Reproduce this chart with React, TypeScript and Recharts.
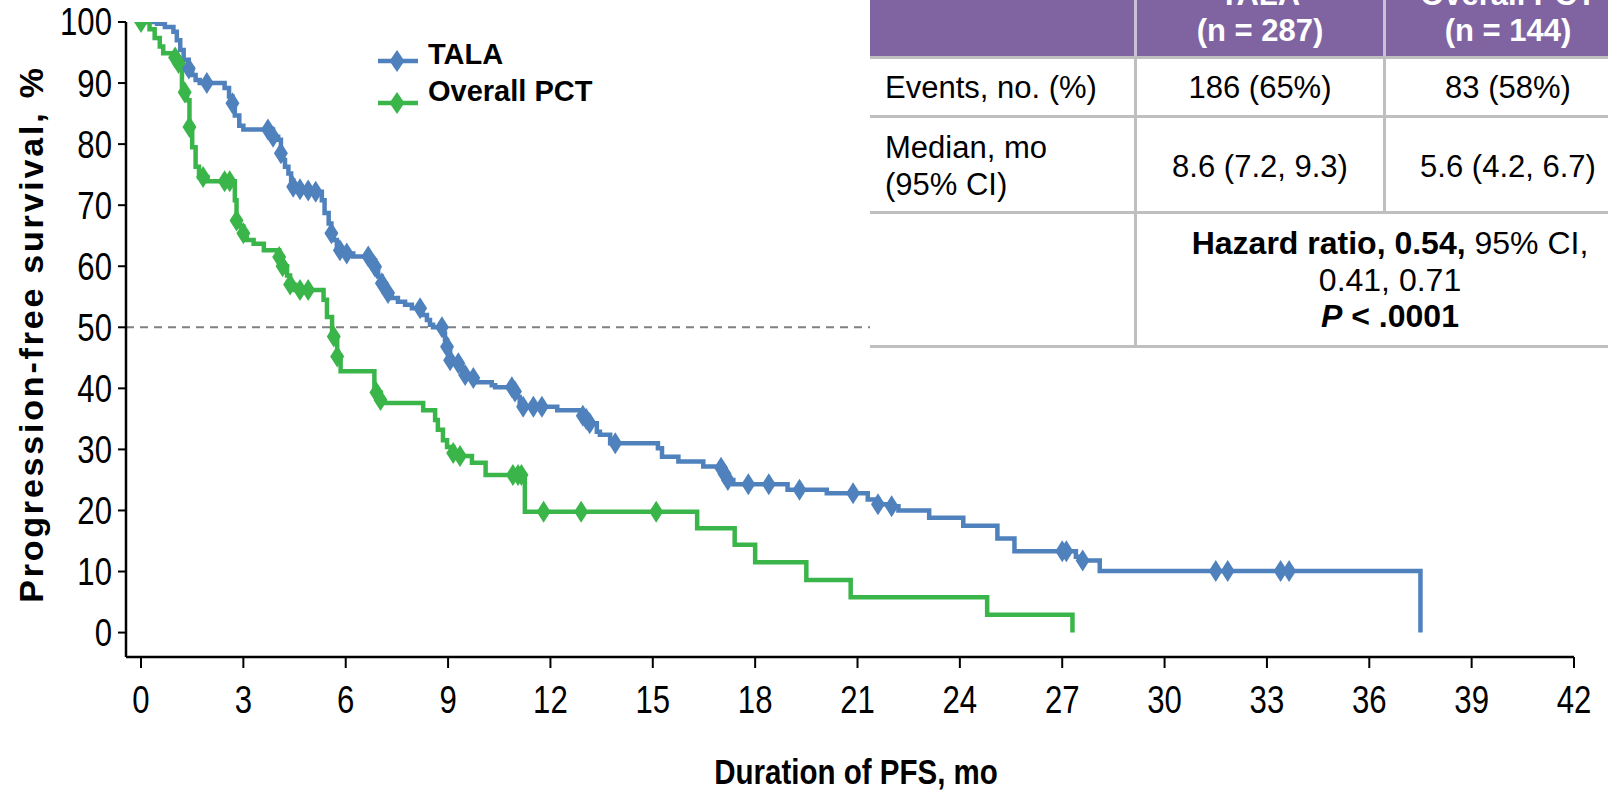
import React from 'react';
import { ComposedChart, Line, XAxis, YAxis, ReferenceLine } from 'recharts';

// ---------- data ----------
const xTicks = [0, 3, 6, 9, 12, 15, 18, 21, 24, 27, 30, 33, 36, 39, 42];
const yTicks = [0, 10, 20, 30, 40, 50, 60, 70, 80, 90, 100];

// [months, PFS %, censored (1 = tick mark)]
const talaSteps: [number, number, number][] = [
  [0, 100, 0], [0.47, 99.7, 0], [0.7, 99.2, 0], [0.95, 98.4, 0], [1.05, 97.0, 0],
  [1.15, 95.4, 0], [1.25, 93.8, 0], [1.4, 92.4, 1], [1.5, 91.3, 0], [1.6, 90.5, 0],
  [1.72, 90.0, 0], [1.93, 90.0, 1], [2.45, 89.2, 0], [2.58, 87.8, 0], [2.68, 86.7, 1],
  [2.75, 84.7, 0], [2.88, 83.0, 0], [3.0, 82.4, 0], [3.72, 82.4, 1], [3.87, 81.2, 1],
  [4.02, 80.7, 0], [4.1, 78.5, 1], [4.17, 77.4, 0], [4.22, 76.3, 0], [4.32, 75.2, 0],
  [4.4, 74.1, 0], [4.46, 73.0, 1], [4.66, 72.6, 1], [4.9, 72.4, 1], [5.12, 72.2, 1],
  [5.3, 70.8, 0], [5.38, 68.7, 0], [5.5, 67.0, 0], [5.58, 65.4, 1], [5.65, 64.3, 0],
  [5.74, 63.2, 0], [5.83, 62.6, 1], [5.93, 62.1, 0], [6.03, 62.1, 1], [6.22, 61.6, 0],
  [6.66, 61.6, 1], [6.77, 61.0, 0], [6.86, 59.9, 1], [6.95, 58.3, 0], [7.06, 57.2, 1],
  [7.15, 56.1, 0], [7.24, 55.6, 1], [7.35, 54.8, 0], [7.53, 54.2, 0], [7.74, 53.7, 0],
  [7.94, 53.1, 0], [8.18, 53.1, 1], [8.25, 52.0, 0], [8.38, 51.2, 0], [8.47, 50.4, 0],
  [8.56, 50.0, 0], [8.82, 50.0, 1], [8.86, 49.0, 0], [8.91, 47.9, 0], [8.97, 46.8, 1],
  [9.06, 44.6, 1], [9.2, 44.1, 0], [9.3, 44.1, 1], [9.4, 43.0, 0], [9.5, 42.2, 1],
  [9.6, 41.7, 0], [9.74, 41.7, 1], [9.84, 41.0, 0], [10.28, 40.5, 0], [10.38, 40.2, 0],
  [10.87, 40.2, 1], [10.96, 39.5, 1], [11.0, 38.6, 0], [11.1, 37.6, 0], [11.2, 37.0, 1],
  [11.5, 37.0, 1], [11.75, 37.0, 1], [12.2, 36.4, 0], [12.95, 35.5, 1], [13.05, 35.0, 1],
  [13.15, 34.3, 1], [13.36, 32.9, 0], [13.45, 32.4, 0], [13.75, 31.0, 0], [13.9, 31.0, 1],
  [15.15, 30.2, 0], [15.27, 28.8, 0], [15.75, 28.0, 0], [16.48, 27.2, 0], [17.0, 27.0, 1],
  [17.1, 26.0, 1], [17.2, 25.0, 1], [17.36, 24.3, 0], [17.8, 24.3, 1], [18.4, 24.3, 1],
  [18.95, 23.4, 0], [19.3, 23.4, 1], [20.1, 22.8, 0], [20.87, 22.8, 1], [21.3, 21.8, 0],
  [21.6, 21.0, 1], [22.0, 20.7, 1], [22.2, 20.0, 0], [23.1, 18.8, 0], [24.1, 17.5, 0],
  [25.1, 15.4, 0], [25.6, 13.3, 0], [27.0, 13.3, 1], [27.12, 13.3, 1], [27.4, 12.4, 0],
  [27.6, 11.8, 1], [28.1, 10.1, 0], [31.5, 10.1, 1], [31.85, 10.1, 1], [33.4, 10.1, 1],
  [33.65, 10.1, 1], [37.5, 0, 0],
];

const pctSteps: [number, number, number][] = [
  [0, 100, 1], [0.25, 98.8, 0], [0.4, 97.4, 0], [0.55, 96.0, 0], [0.65, 94.9, 0],
  [1.0, 94.2, 1], [1.1, 93.3, 1], [1.2, 88.8, 0], [1.28, 88.5, 1], [1.35, 87.2, 0],
  [1.42, 82.8, 1], [1.5, 79.5, 0], [1.6, 76.3, 0], [1.7, 74.6, 0], [1.82, 74.6, 1],
  [1.95, 73.9, 0], [2.45, 73.9, 1], [2.6, 73.9, 1], [2.75, 70.8, 0], [2.8, 67.5, 1],
  [2.9, 66.5, 0], [3.0, 65.4, 1], [3.1, 64.3, 0], [3.3, 63.7, 0], [3.6, 62.6, 0],
  [4.05, 61.5, 1], [4.15, 60.0, 1], [4.28, 58.5, 0], [4.37, 57.0, 1], [4.5, 56.1, 0],
  [4.66, 56.1, 1], [4.9, 56.1, 1], [5.35, 54.5, 0], [5.45, 51.7, 0], [5.6, 49.0, 0],
  [5.65, 48.5, 1], [5.75, 45.2, 1], [5.85, 42.8, 0], [6.84, 39.8, 0], [6.9, 39.3, 1],
  [7.02, 38.1, 1], [7.1, 37.6, 0], [8.27, 36.4, 0], [8.62, 34.8, 0], [8.7, 33.2, 0],
  [8.85, 31.5, 0], [8.97, 30.4, 0], [9.15, 29.4, 1], [9.3, 28.9, 0], [9.35, 28.9, 1],
  [9.7, 27.8, 0], [10.1, 25.8, 0], [10.9, 25.8, 1], [11.05, 25.8, 1], [11.15, 25.8, 1],
  [11.25, 19.8, 0], [11.8, 19.8, 1], [12.9, 19.8, 1], [15.1, 19.8, 1], [16.3, 17.1, 0],
  [17.4, 14.4, 0], [18.0, 11.5, 0], [19.5, 8.6, 0], [20.8, 5.8, 0], [24.8, 2.9, 0],
  [27.3, 0, 0],
];

const seriesNames = ['TALA', 'Overall PCT'];
const headerLine1 = ['TALA', 'Overall PCT'];
const headerLine2 = ['(n = 287)', '(n = 144)'];
const eventsRow = ['Events, no. (%)', '186 (65%)', '83 (58%)'];
const medianLabel = ['Median, mo', '(95% CI)'];
const medianRow = ['8.6 (7.2, 9.3)', '5.6 (4.2, 6.7)'];

// ---------- styles ----------
const BLUE = '#4F81BD';
const GREEN = '#3AB54A';
const PURPLE = '#8064A2';
const GRID_GRAY = '#BFBFBF';
const SANS = "'Liberation Sans', Arial, Helvetica, sans-serif";
const NARROW_SCALE = 0.82;

const talaData = talaSteps.map(([t, v, c]) => ({ t, v, c }));
const pctData = pctSteps.map(([t, v, c]) => ({ t, v, c }));

const makeDot = (color: string) => (props: any) => {
  const { cx, cy, payload, index } = props;
  if (!payload || !payload.c || cx == null || cy == null) return <g key={`n${index}`} />;
  return (
    <path
      key={`d${index}`}
      d={`M${cx},${cy - 11}L${cx + 7},${cy}L${cx},${cy + 11}L${cx - 7},${cy}Z`}
      fill={color}
    />
  );
};

const XTick = (props: any) => {
  const { x, y, payload } = props;
  return (
    <g transform={`translate(${x},${y})`}>
      <text
        x={0}
        y={0}
        dy="0.71em"
        textAnchor="middle"
        transform={`scale(${NARROW_SCALE},1)`}
        fontFamily={SANS}
        fontSize={38}
        fill="#000"
      >
        {payload.value}
      </text>
    </g>
  );
};

const YTick = (props: any) => {
  const { x, y, payload } = props;
  return (
    <g transform={`translate(${x},${y})`}>
      <text
        x={0}
        y={0}
        dy="0.355em"
        textAnchor="end"
        transform={`scale(${NARROW_SCALE},1)`}
        fontFamily={SANS}
        fontSize={38}
        fill="#000"
      >
        {payload.value}
      </text>
    </g>
  );
};

const XTitle = () => (
  <g transform="translate(856,784)">
    <text
      x={0}
      y={0}
      textAnchor="middle"
      transform={`scale(${NARROW_SCALE},1)`}
      fontFamily={SANS}
      fontWeight="bold"
      fontSize={36}
      fill="#000"
    >
      Duration of PFS, mo
    </text>
  </g>
);

const YTitle = () => (
  <text
    x={31}
    y={334}
    transform="rotate(-90 31 334)"
    textAnchor="middle"
    dominantBaseline="central"
    fontFamily={SANS}
    fontWeight="bold"
    fontSize={34}
    letterSpacing={2.8}
    fill="#000"
  >
    Progression-free survival, %
  </text>
);

const cellText = (
  text: React.ReactNode,
  cx: number,
  cy: number,
  opts: { left?: boolean; bold?: boolean; color?: string; size?: number } = {}
) => {
  const h = 40;
  const style: React.CSSProperties = {
    position: 'absolute',
    top: cy - h / 2,
    height: h,
    lineHeight: `${h}px`,
    fontFamily: SANS,
    fontSize: opts.size ?? 31,
    fontWeight: opts.bold ? 'bold' : 'normal',
    color: opts.color ?? '#000',
    whiteSpace: 'nowrap',
  };
  if (opts.left) {
    style.left = cx;
  } else {
    style.left = cx - 220;
    style.width = 440;
    style.textAlign = 'center';
  }
  return <div style={style}>{text}</div>;
};

const hLine = (y: number, x1: number, x2: number) => (
  <div style={{ position: 'absolute', left: x1, top: y - 1.5, width: x2 - x1, height: 3, background: GRID_GRAY }} />
);
const vLine = (x: number, y1: number, y2: number, color = GRID_GRAY) => (
  <div style={{ position: 'absolute', left: x - 1.5, top: y1, width: 3, height: y2 - y1, background: color }} />
);

const Table = () => {
  const L = 870, C1 = 1135, C2 = 1384, R = 1640;
  return (
    <>
      <div style={{ position: 'absolute', left: L, top: 0, width: R - L, height: 346, background: '#fff' }} />
      <div style={{ position: 'absolute', left: L, top: -40, width: R - L, height: 96, background: PURPLE }} />
      {vLine(C1, -40, 346, '#C9C1D6')}
      {vLine(C2, -40, 56, '#C9C1D6')}
      {vLine(C1, 56, 346)}
      {vLine(C2, 56, 212)}
      {hLine(57, L, R)}
      {hLine(116, L, R)}
      {hLine(212, L, R)}
      {hLine(346, L, R)}
      {cellText(headerLine1[0], 1260, -5, { bold: true, color: '#fff' })}
      {cellText(headerLine1[1], 1508, -5, { bold: true, color: '#fff' })}
      {cellText(headerLine2[0], 1260, 31, { bold: true, color: '#fff' })}
      {cellText(headerLine2[1], 1508, 31, { bold: true, color: '#fff' })}
      {cellText(eventsRow[0], 885, 88, { left: true })}
      {cellText(eventsRow[1], 1260, 88)}
      {cellText(eventsRow[2], 1508, 88)}
      {cellText(medianLabel[0], 885, 148, { left: true })}
      {cellText(medianLabel[1], 885, 185, { left: true })}
      {cellText(medianRow[0], 1260, 167)}
      {cellText(medianRow[1], 1508, 167)}
      {cellText(
        <span>
          <b>Hazard ratio, 0.54,</b> 95% CI,
        </span>,
        1390,
        243,
        { size: 32 }
      )}
      {cellText('0.41, 0.71', 1390, 280, { size: 32 })}
      {cellText(
        <span>
          <b>
            <i>P</i> &lt; .0001
          </b>
        </span>,
        1390,
        316,
        { size: 32 }
      )}
    </>
  );
};

const LegendBox = () => {
  const items = [
    { name: seriesNames[0], color: BLUE, ly: 61, ty: 54 },
    { name: seriesNames[1], color: GREEN, ly: 103, ty: 91 },
  ];
  return (
    <>
      <svg style={{ position: 'absolute', left: 0, top: 0 }} width={440} height={130}>
        {items.map((it) => (
          <g key={it.name}>
            <line x1={378} x2={418} y1={it.ly} y2={it.ly} stroke={it.color} strokeWidth={4.5} />
            <path d={`M397,${it.ly - 11}L404.5,${it.ly}L397,${it.ly + 11}L389.5,${it.ly}Z`} fill={it.color} />
          </g>
        ))}
      </svg>
      {items.map((it) => (
        <div
          key={it.name + 't'}
          style={{
            position: 'absolute',
            left: 428,
            top: it.ty - 20,
            height: 40,
            lineHeight: '40px',
            fontFamily: SANS,
            fontWeight: 'bold',
            fontSize: 29,
            color: '#000',
            whiteSpace: 'nowrap',
          }}
        >
          {it.name}
        </div>
      ))}
    </>
  );
};

export default function App() {
  return (
    <div
      style={{
        position: 'absolute',
        left: 0,
        top: 0,
        width: 1608,
        height: 792,
        overflow: 'hidden',
        background: '#fff',
      }}
    >
      <ComposedChart width={1608} height={792} margin={{ top: 22, right: 34, bottom: 0, left: 0 }}>
        <XAxis
          type="number"
          dataKey="t"
          domain={[-0.44, 42]}
          allowDataOverflow
          ticks={xTicks}
          interval={0}
          height={135}
          tickSize={11}
          tickMargin={18}
          axisLine={{ stroke: '#000', strokeWidth: 2.5 }}
          tickLine={{ stroke: '#000', strokeWidth: 2 }}
          tick={<XTick />}
          label={{ content: () => <XTitle /> }}
        />
        <YAxis
          type="number"
          dataKey="v"
          domain={[-4, 100]}
          allowDataOverflow
          ticks={yTicks}
          interval={0}
          width={126}
          tickSize={8}
          tickMargin={6}
          axisLine={{ stroke: '#000', strokeWidth: 2.5 }}
          tickLine={{ stroke: '#000', strokeWidth: 2 }}
          tick={<YTick />}
          label={{ content: () => <YTitle /> }}
        />
        <ReferenceLine y={50} stroke="#808080" strokeWidth={2} strokeDasharray="8 6" />
        <Line
          data={talaData}
          dataKey="v"
          name={seriesNames[0]}
          type="stepAfter"
          stroke={BLUE}
          strokeWidth={4.5}
          strokeLinejoin="miter"
          dot={makeDot(BLUE)}
          activeDot={false}
          isAnimationActive={false}
        />
        <Line
          data={pctData}
          dataKey="v"
          name={seriesNames[1]}
          type="stepAfter"
          stroke={GREEN}
          strokeWidth={4.5}
          strokeLinejoin="miter"
          dot={makeDot(GREEN)}
          activeDot={false}
          isAnimationActive={false}
        />
      </ComposedChart>
      <LegendBox />
      <Table />
    </div>
  );
}
